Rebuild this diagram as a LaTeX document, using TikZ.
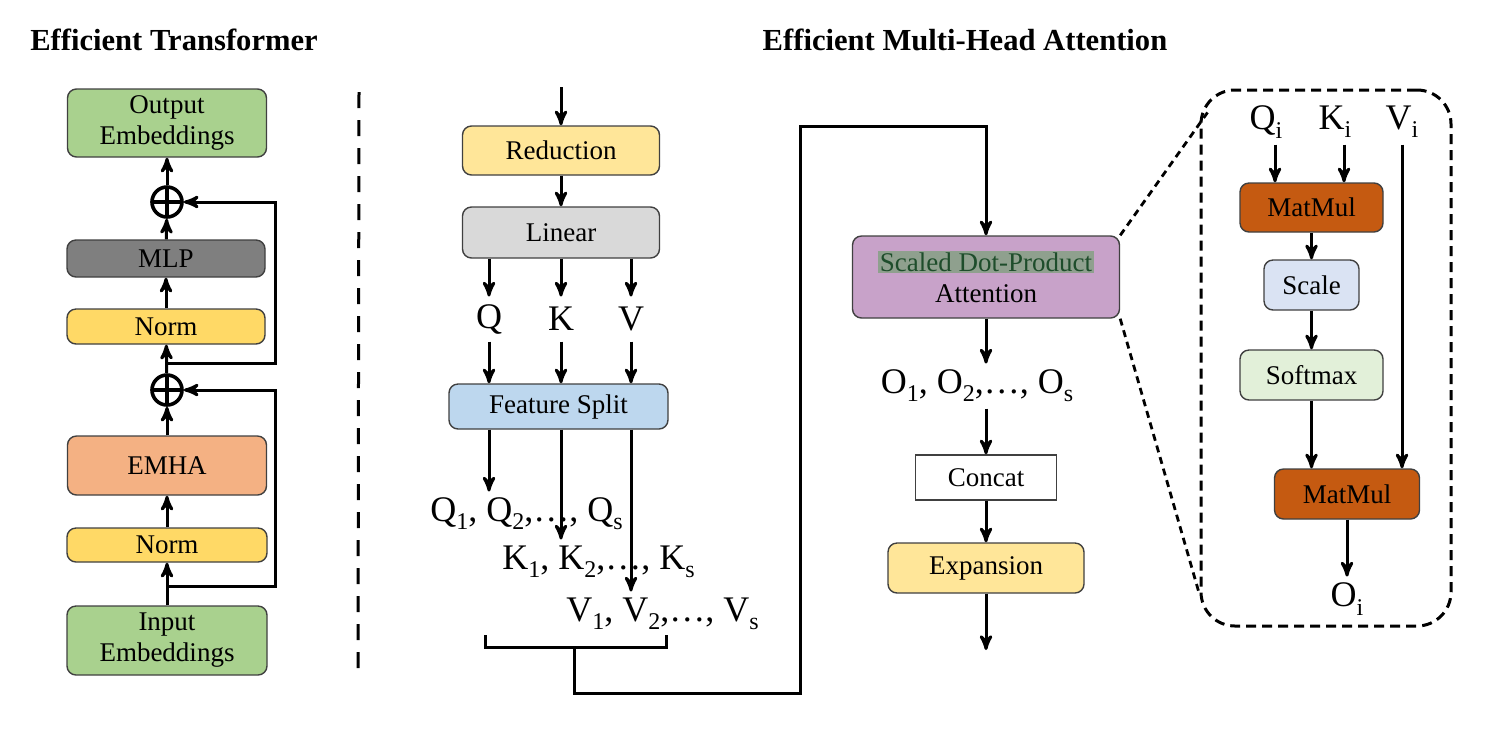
\documentclass[tikz,border=0pt]{standalone}
\usepackage{fontspec}
\setmainfont{Liberation Serif}
\usepackage{tikz}
\usetikzlibrary{arrows,calc}

\definecolor{embgreen}{HTML}{A9D18E}
\definecolor{normyellow}{HTML}{FFD966}
\definecolor{emhaorange}{HTML}{F4B183}
\definecolor{mlpgray}{HTML}{7F7F7F}
\definecolor{lightyellow}{HTML}{FFE699}
\definecolor{lineargray}{HTML}{D9D9D9}
\definecolor{splitblue}{HTML}{BDD7EE}
\definecolor{sdpapurple}{HTML}{C8A2C9}
\definecolor{hlgreen}{HTML}{8FA08E}
\definecolor{hltext}{HTML}{1E4D2B}
\definecolor{matorange}{HTML}{C55A11}
\definecolor{scaleblue}{HTML}{DAE3F3}
\definecolor{softgreen}{HTML}{E2F0D9}

\newcommand{\idx}[1]{\raisebox{-0.5ex}{\fontsize{12}{12}\selectfont #1}}

\begin{document}
\begin{tikzpicture}[->,>=stealth',x=0.5pt,y=-0.5pt,line width=1.5pt,
                    block node/.style={draw=black!75,line width=0.7pt,rounded corners=4.5pt,align=center,
                                       inner sep=0pt,font=\fontsize{13.5}{15.5}\selectfont},
                    plus node/.style={circle,draw,line width=1.8pt,minimum size=15pt,inner sep=0pt,
                                      path picture={\draw[-] (path picture bounding box.north) -- (path picture bounding box.south)
                                                            (path picture bounding box.west) -- (path picture bounding box.east);}},
                    label node/.style={inner sep=0pt,minimum height=21pt,font=\fontsize{18}{20}\selectfont},
                    title node/.style={font=\fontsize{15.3}{17}\selectfont\bfseries}]
  \useasboundingbox (0,0) rectangle (1504,746);

  % Efficient Transformer
  \node[title node] (t1) at (174,40) {Efficient Transformer};
  \node[block node,fill=embgreen,minimum width=100pt,minimum height=34.5pt] (inp) at (167,640.5) {Input\\Embeddings};
  \node[block node,fill=normyellow,minimum width=100pt,minimum height=17pt] (norm1) at (167,545) {Norm};
  \node[block node,fill=emhaorange,minimum width=99.5pt,minimum height=29.5pt] (emha) at (167,465.5) {EMHA};
  \node[plus node] (plus1) at (167,390) {};
  \node[block node,fill=normyellow,minimum width=99pt,minimum height=17.5pt] (norm2) at (166,326.5) {Norm};
  \node[block node,fill=mlpgray,minimum width=99pt,minimum height=18.5pt] (mlp) at (166,258.5) {MLP};
  \node[plus node] (plus2) at (167,202) {};
  \node[block node,fill=embgreen,minimum width=99.5pt,minimum height=34pt] (out) at (167,123) {Output\\Embeddings};

  \draw (inp) -- (norm1);
  \draw (norm1) -- (emha);
  \draw (emha) -- (plus1);
  \draw (plus1) -- (norm2);
  \draw (norm2) -- (mlp);
  \draw (mlp) -- (plus2);
  \draw (plus2) -- (out);
  \coordinate (res1) at (167,586);
  \coordinate (res2) at (167,363);
  \draw (res1) -- ++(108,0) |- (plus1);
  \draw (res2) -- ++(108,0) |- (plus2);

  \draw[-,line width=1.5pt,dash pattern=on 8pt off 6pt] (359,92) -- (358,670);

  % Efficient Multi-Head Attention
  \node[title node] (t2) at (965,40) {Efficient Multi-Head Attention};
  \coordinate (min) at (561,87);
  \node[block node,fill=lightyellow,minimum width=98.5pt,minimum height=24.5pt] (red) at (561,150.5) {Reduction};
  \node[block node,fill=lineargray,minimum width=98.5pt,minimum height=25.5pt] (lin) at (561,232.5) {Linear};
  \node[label node] (q) at (489,319) {Q};
  \node[label node] (k) at (561,319) {K};
  \node[label node] (v) at (631,319) {V};
  \node[block node,fill=splitblue,minimum width=109.5pt,minimum height=22.5pt] (fs) at (558.5,406.5) {Feature Split};
  \node[label node] (qs) at (526.5,514) {Q\idx{1}, Q\idx{2},\dots, Q\idx{s}};
  \node[label node] (ks) at (598.5,562) {K\idx{1}, K\idx{2},\dots, K\idx{s}};
  \node[label node] (vs) at (662.5,614) {V\idx{1}, V\idx{2},\dots, V\idx{s}};

  \draw (min) -- (red);
  \draw (red) -- (lin);
  \foreach \n in {q,k,v} {
    \draw (\n |- lin.south) -- (\n);
    \draw (\n) -- (\n |- fs.north);
  }
  \draw (q |- fs.south) -- (q |- qs.north);
  \draw (k |- fs.south) -- (k |- ks.north);
  \draw (v |- fs.south) -- (v |- vs.north);

  \draw[-] (485,635) -- (485,647) -- (666,647) -- (666,635);
  \coordinate (brk) at (574,647);

  \node[block node,fill=sdpapurple,minimum width=133.5pt,minimum height=41pt] (sdpa) at (986,277)
    {{\setlength{\fboxsep}{0.8pt}\colorbox{hlgreen}{\color{hltext}Scaled Dot-Product}}\\Attention};
  \node[label node] (os) at (977,386) {O\idx{1}, O\idx{2},\dots, O\idx{s}};
  \node[block node,rounded corners=0pt,fill=white,minimum width=70.5pt,minimum height=22.5pt] (cat) at (986,477.5) {Concat};
  \node[block node,fill=lightyellow,minimum width=98pt,minimum height=25pt] (exp) at (986,568) {Expansion};
  \coordinate (eout) at (986,650);

  \draw (brk) -- ++(0,46) -- ++(226,0) -- ++(0,-567) -| (sdpa);
  \draw (sdpa) -- (sdpa.south |- os.north);
  \draw (sdpa.south |- os.south) -- (cat);
  \draw (cat) -- (exp);
  \draw (exp) -- (eout);

  % zoomed attention
  \node[draw,line width=1.5pt,dash pattern=on 5pt off 3pt,rounded corners=17pt,
        minimum width=125pt,minimum height=268pt] (zoom) at (1326,358) {};
  \draw[-,line width=1.4pt,dash pattern=on 3.5pt off 2.5pt] (sdpa.north east) -- ($(zoom.north west)+(8,24)$);
  \draw[-,line width=1.4pt,dash pattern=on 3.5pt off 2.5pt] (sdpa.south east) -- ($(zoom.south west)+(0,-33)$);

  \node[label node] (qi) at (1266,122) {Q\idx{i}};
  \node[label node] (ki) at (1335,122) {K\idx{i}};
  \node[label node] (vi) at (1402,122) {V\idx{i}};
  \node[block node,fill=matorange,minimum width=71.5pt,minimum height=24.5pt] (mm1) at (1311.5,207.5) {MatMul};
  \node[block node,fill=scaleblue,minimum width=47.5pt,minimum height=25pt] (scl) at (1311.5,285) {Scale};
  \node[block node,fill=softgreen,minimum width=71.5pt,minimum height=25pt] (soft) at (1311.5,375) {Softmax};
  \node[block node,fill=matorange,minimum width=72.5pt,minimum height=25pt] (mm2) at (1347,494) {MatMul};
  \node[label node] (oi) at (1347,599) {O\idx{i}};

  \draw ([xshift=4.5pt]qi.south) -- ([xshift=4.5pt]qi.south |- mm1.north);
  \draw ([xshift=4.5pt]ki.south) -- ([xshift=4.5pt]ki.south |- mm1.north);
  \draw (vi) -- (vi |- mm2.north);
  \draw (mm1) -- (scl);
  \draw (scl) -- (soft);
  \draw (soft) -- (soft |- mm2.north);
  \draw (mm2) -- (oi);
\end{tikzpicture}
\end{document}
